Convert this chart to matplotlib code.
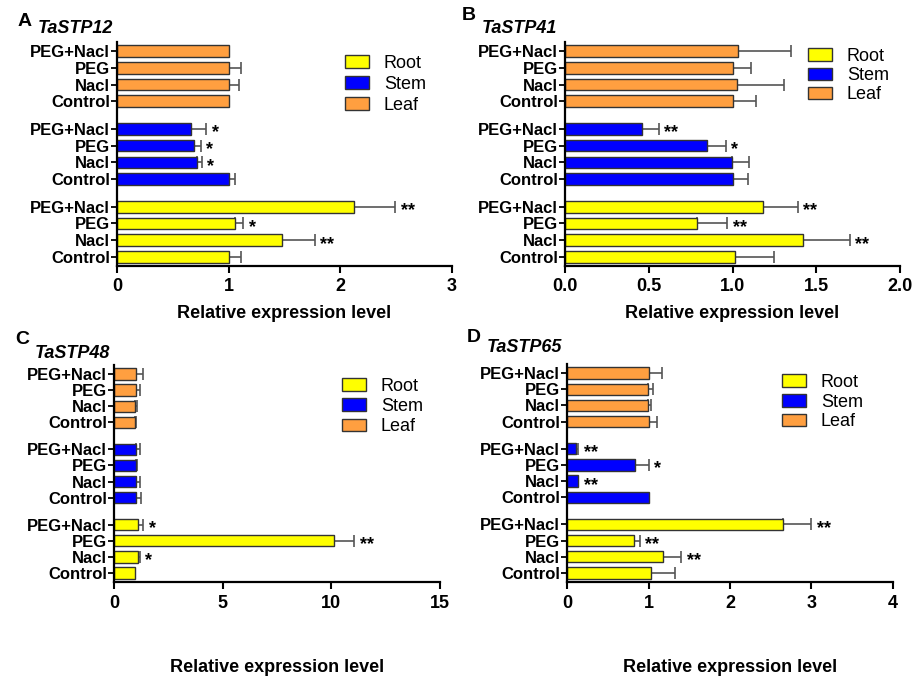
import matplotlib.pyplot as plt
import numpy as np

plt.rcParams['font.family'] = ['Liberation Sans', 'DejaVu Sans']

treatments = ['Control', 'Nacl', 'PEG', 'PEG+Nacl']
tissues = ['Root', 'Stem', 'Leaf']
colors = {'Root': '#FFFF00', 'Stem': '#0000FF', 'Leaf': '#FF9F40'}

# values ordered Control, Nacl, PEG, PEG+Nacl ; error = upper end of error bar (0 = none)
stp12_root = [1.00, 1.48, 1.06, 2.12]
stp12_root_err = [0.11, 0.29, 0.07, 0.37]
stp12_stem = [1.00, 0.72, 0.69, 0.66]
stp12_stem_err = [0.06, 0.04, 0.06, 0.14]
stp12_leaf = [1.00, 1.00, 1.00, 1.00]
stp12_leaf_err = [0.0, 0.09, 0.11, 0.0]
stp12_sig = {'Root': ['', '**', '*', '**'], 'Stem': ['', '*', '*', '*'], 'Leaf': ['', '', '', '']}

stp41_root = [1.015, 1.42, 0.79, 1.18]
stp41_root_err = [0.235, 0.28, 0.18, 0.21]
stp41_stem = [1.005, 0.995, 0.85, 0.46]
stp41_stem_err = [0.085, 0.105, 0.11, 0.10]
stp41_leaf = [1.005, 1.025, 1.005, 1.035]
stp41_leaf_err = [0.135, 0.285, 0.105, 0.315]
stp41_sig = {'Root': ['', '**', '**', '**'], 'Stem': ['', '', '*', '**'], 'Leaf': ['', '', '', '']}

stp48_root = [0.98, 1.10, 10.12, 1.09]
stp48_root_err = [0.0, 0.08, 0.93, 0.25]
stp48_stem = [1.01, 1.00, 1.00, 1.00]
stp48_stem_err = [0.25, 0.18, 0.06, 0.18]
stp48_leaf = [0.98, 0.98, 1.00, 1.00]
stp48_leaf_err = [0.05, 0.09, 0.18, 0.34]
stp48_sig = {'Root': ['', '*', '**', '*'], 'Stem': ['', '', '', ''], 'Leaf': ['', '', '', '']}

stp65_root = [1.03, 1.18, 0.82, 2.65]
stp65_root_err = [0.30, 0.22, 0.07, 0.35]
stp65_stem = [1.00, 0.135, 0.84, 0.115]
stp65_stem_err = [0.0, 0.0, 0.16, 0.02]
stp65_leaf = [1.00, 0.99, 0.99, 1.00]
stp65_leaf_err = [0.10, 0.04, 0.06, 0.16]
stp65_sig = {'Root': ['', '**', '**', '**'], 'Stem': ['', '**', '*', '**'], 'Leaf': ['', '', '', '']}

panels = [
    dict(letter='A', gene='TaSTP12', vals=[stp12_root, stp12_stem, stp12_leaf],
         errs=[stp12_root_err, stp12_stem_err, stp12_leaf_err], sig=stp12_sig,
         xlim=3, xticks=[0, 1, 2, 3], fmt='{:.0f}',
         box=(117, 452, 42, 266), leg=(345, 55), lsp=0.22, lab=-0.21,
         ltr=(18, 21), gen=(38, 28.5)),
    dict(letter='B', gene='TaSTP41', vals=[stp41_root, stp41_stem, stp41_leaf],
         errs=[stp41_root_err, stp41_stem_err, stp41_leaf_err], sig=stp41_sig,
         xlim=2, xticks=[0, 0.5, 1, 1.5, 2], fmt='{:.1f}',
         box=(565, 900, 42, 266), leg=(808, 48), lsp=0.12, lab=-0.21,
         ltr=(462, 16), gen=(482, 28.5)),
    dict(letter='C', gene='TaSTP48', vals=[stp48_root, stp48_stem, stp48_leaf],
         errs=[stp48_root_err, stp48_stem_err, stp48_leaf_err], sig=stp48_sig,
         xlim=15, xticks=[0, 5, 10, 15], fmt='{:.0f}',
         box=(114, 440, 365, 582), leg=(342, 378), lsp=0.17, lab=-0.392,
         ltr=(15, 339), gen=(35, 354)),
    dict(letter='D', gene='TaSTP65', vals=[stp65_root, stp65_stem, stp65_leaf],
         errs=[stp65_root_err, stp65_stem_err, stp65_leaf_err], sig=stp65_sig,
         xlim=4, xticks=[0, 1, 2, 3, 4], fmt='{:.0f}',
         box=(567, 893, 364, 582), leg=(782, 374), lsp=0.15, lab=-0.392,
         ltr=(467, 338), gen=(487, 347)),
]

W, H = 915, 679
fig = plt.figure(figsize=(W / 100, H / 100), dpi=100)

offsets = [0, 4.65, 9.3]

for p in panels:
    l, r, t, b = p['box']
    ax = fig.add_axes([l / W, 1 - b / H, (r - l) / W, (b - t) / H])
    ypos, ylabels = [], []
    handles = []
    for i, tis in enumerate(tissues):
        y = np.arange(4) + offsets[i]
        v = np.array(p['vals'][i])
        e = np.array(p['errs'][i])
        h = ax.barh(y, v, height=0.7, color=colors[tis], edgecolor='#333333',
                    linewidth=1, label=tis, zorder=2)
        handles.append(h)
        m = e > 0
        ax.errorbar(v[m], y[m], xerr=[np.zeros(m.sum()), e[m]], fmt='none',
                    ecolor='#555555', elinewidth=1.2, capsize=4, capthick=1.2, zorder=1)
        for k in range(4):
            s = p['sig'][tis][k]
            if s:
                ax.annotate(s, xy=(v[k] + e[k], y[k]), xytext=(4, -3),
                            textcoords='offset points', ha='left', va='center',
                            fontsize=13, fontweight='bold')
        ypos.extend(y)
        ylabels.extend(treatments)
    ax.set_yticks(ypos)
    ax.set_yticklabels(ylabels, fontsize=12, fontweight='bold')
    ax.set_ylim(-0.55, 12.85)
    ax.set_xlim(0, p['xlim'])
    ax.set_xticks(p['xticks'])
    ax.set_xticklabels([p['fmt'].format(x) for x in p['xticks']], fontsize=13, fontweight='bold')
    for sp in ['top', 'right']:
        ax.spines[sp].set_visible(False)
    for sp in ['left', 'bottom']:
        ax.spines[sp].set_linewidth(1.6)
    ax.tick_params(axis='y', length=4, width=1.3, pad=1)
    ax.tick_params(axis='x', length=5, width=1.5, pad=4)
    ax.set_xlabel('Relative expression level', fontsize=13, fontweight='bold')
    ax.xaxis.set_label_coords(0.5, p['lab'])
    ax.xaxis.label.set_va('center')

    lx, ly = p['leg']
    ax.legend(handles=handles, loc='upper left', bbox_to_anchor=(lx / W, 1 - ly / H),
              bbox_transform=fig.transFigure, frameon=False, fontsize=13,
              borderpad=0, handlelength=1.35, handleheight=0.7, handletextpad=0.8,
              labelspacing=p['lsp'], borderaxespad=0)

    fig.text(p['ltr'][0] / W, 1 - p['ltr'][1] / H, p['letter'], fontsize=14,
             fontweight='bold', ha='left', va='center')
    fig.text(p['gen'][0] / W, 1 - p['gen'][1] / H, p['gene'], fontsize=13,
             fontweight='bold', style='italic', ha='left', va='center')

fig.savefig('out.png', dpi=100)
